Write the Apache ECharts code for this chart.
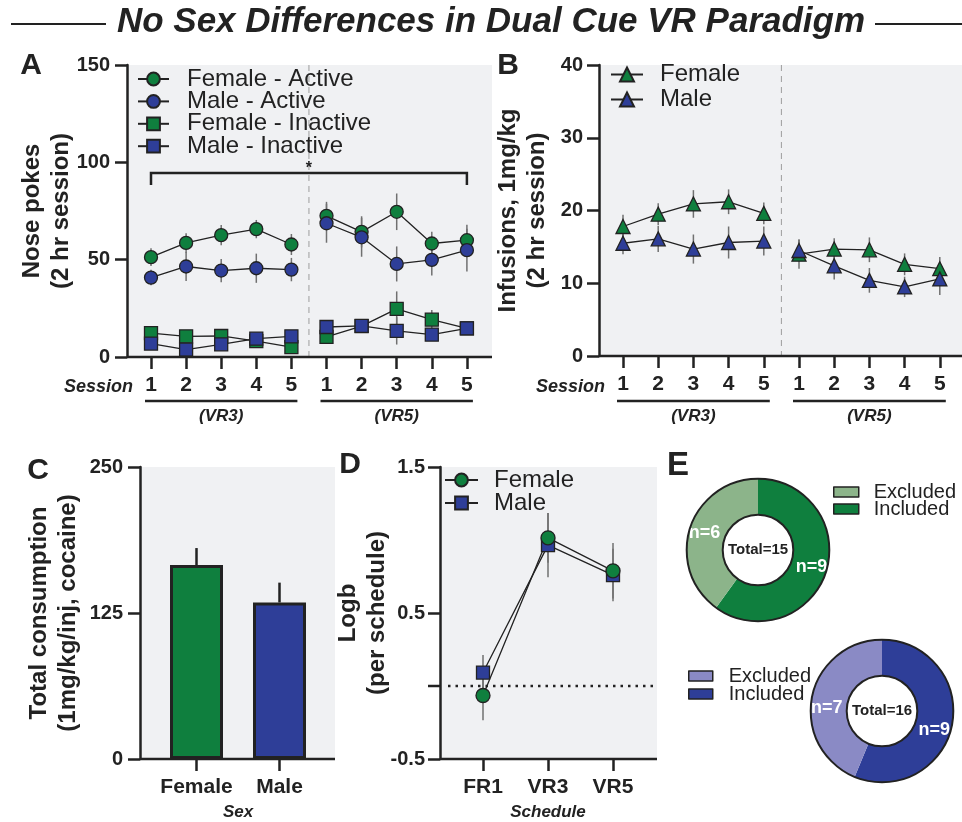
<!DOCTYPE html>
<html>
<head>
<meta charset="utf-8">
<title>No Sex Differences in Dual Cue VR Paradigm</title>
<script src="https://cdn.jsdelivr.net/npm/echarts@6/dist/echarts.min.js"></script>
<style>
    html, body { margin: 0; padding: 0; background: #fff; }
    #chart { width: 962px; height: 822px; }
</style>
</head>
<body>
<div id="chart"></div>
<script>
// ---------- data ----------
const sessionLabels = ['1', '2', '3', '4', '5', '1', '2', '3', '4', '5'];
const phaseLabels = ['(VR3)', '(VR5)'];

// A: nose pokes, mean and SEM per session
const femaleActive = [51.3, 58.6, 62.6, 65.7, 57.8, 72.5, 64.3, 74.6, 58.3, 60.0];
const femaleActiveSem = [4.6, 5.0, 5.2, 4.7, 5.4, 7.2, 8.0, 9.4, 6.0, 8.0];
const maleActive = [40.8, 46.5, 44.4, 45.6, 44.9, 68.7, 61.5, 47.8, 49.9, 54.9];
const maleActiveSem = [4.0, 7.4, 6.0, 7.5, 6.0, 10.0, 10.0, 9.0, 8.0, 11.0];
const femaleInactive = [12.3, 10.6, 10.8, 8.2, 5.1, 10.3, 15.9, 24.7, 19.2, 14.7];
const femaleInactiveSem = [3.0, 2.5, 2.5, 2.0, 2.0, 2.5, 3.0, 9.0, 5.0, 3.0];
const maleInactive = [6.9, 3.8, 6.5, 9.4, 10.6, 15.4, 16.0, 13.4, 11.5, 14.7];
const maleInactiveSem = [2.5, 2.0, 2.0, 2.0, 2.5, 3.0, 3.0, 7.0, 3.0, 3.0];

// B: infusions
const femaleInfusions = [17.8, 19.5, 20.9, 21.2, 19.6, 14.0, 14.7, 14.6, 12.6, 12.0];
const femaleInfusionsSem = [1.6, 1.5, 1.9, 1.7, 1.5, 2.0, 1.5, 1.7, 1.5, 1.6];
const maleInfusions = [15.5, 16.1, 14.7, 15.6, 15.8, 14.5, 12.4, 10.4, 9.5, 10.6];
const maleInfusionsSem = [1.5, 1.8, 2.0, 2.2, 2.0, 1.5, 1.9, 1.7, 1.4, 2.2];

// C: total consumption
const sexLabels = ['Female', 'Male'];
const consumption = [166, 134];
const consumptionSem = [14.6, 17];

// D: Logb per schedule
const scheduleLabels = ['FR1', 'VR3', 'VR5'];
const logbFemale = [-0.065, 1.015, 0.789];
const logbFemaleSem = [0.17, 0.17, 0.19];
const logbMale = [0.092, 0.965, 0.76];
const logbMaleSem = [0.12, 0.22, 0.18];

// E: animals included / excluded
const femaleIncluded = 9;
const femaleExcluded = 6;
const maleIncluded = 9;
const maleExcluded = 7;

// ---------- style ----------
const FONT = '"Liberation Sans", Arial, Helvetica, sans-serif';
const INK = '#222';
const GREEN = '#0f7f3e';
const BLUE = '#2e3e98';
const LIGHT_GREEN = '#8cb48a';
const LIGHT_BLUE = '#8a8ac5';
const PANEL_BG = '#f0f1f3';
const ERR = '#707070';

// shaded plot boxes, px
const boxA = { x: 127, y: 65, w: 365, h: 292 };
const boxB = { x: 599, y: 65, w: 363, h: 291 };
const boxC = { x: 140, y: 467, w: 195, h: 292 };
const boxD = { x: 440, y: 467, w: 217, h: 292 };

// grids (category bands narrower than the shaded box)
const gridA = { left: 133.45, top: 65, width: 351, height: 292 };
const gridB = { left: 605.4, top: 65, width: 352, height: 291 };
const gridC = { left: 155, top: 467, width: 166, height: 292 };
const gridD = { left: 450.5, top: 467, width: 195, height: 292 };

const donutF = { cx: 758, cy: 550 };
const donutM = { cx: 882, cy: 711 };
const donutR = [35.3, 71.3];

const catX = (g, n, i) => g.left + g.width / n * (i + 0.5);

const chart = echarts.init(document.getElementById('chart'));

function yAxisFor(gridIndex, min, max, interval, name, offset, nameGap, margin) {
    return {
        type: 'value', gridIndex, min, max, interval, offset,
        name, nameLocation: 'middle', nameRotate: 90, nameGap, nameMoveOverlap: false,
        nameTextStyle: { fontFamily: FONT, fontWeight: 'bold', fontSize: 24, lineHeight: 29, color: INK },
        axisLine: { show: true, lineStyle: { color: INK, width: 2.5 } },
        axisTick: { show: true, length: 12, lineStyle: { color: INK, width: 2.5 } },
        axisLabel: { fontFamily: FONT, fontWeight: 'bold', fontSize: 20, color: INK, margin },
        splitLine: { show: false }
    };
}

function xAxisFor(gridIndex, data, formatter, name) {
    return {
        type: 'category', gridIndex, data,
        name, nameLocation: 'middle', nameGap: 45,
        nameTextStyle: { fontFamily: FONT, fontWeight: 'bold', fontStyle: 'italic', fontSize: 17, color: INK },
        axisLine: { show: false, onZero: false },
        axisTick: { show: true, alignWithLabel: true, length: 12, lineStyle: { color: INK, width: 2.5 } },
        axisLabel: { interval: 0, formatter, fontFamily: FONT, fontWeight: 'bold', fontSize: 21, color: INK, margin: 18 },
        splitLine: { show: false }
    };
}

// one line series per schedule block, so VR3 and VR5 are not joined
function sessionLines(name, values, symbol, size, color, axis) {
    return [values.slice(0, 5).map((v, i) => [i, v]), values.slice(5).map((v, i) => [i + 5, v])].map(data => ({
        type: 'line', name, xAxisIndex: axis, yAxisIndex: axis, data,
        symbol, symbolSize: size, z: 3,
        lineStyle: { color: INK, width: 1.3 },
        itemStyle: { color, borderColor: INK, borderWidth: 1.3 },
        silent: true
    }));
}

function errorBars(axis, means, sems, color, width, upOnly) {
    return {
        type: 'custom', xAxisIndex: axis, yAxisIndex: axis, z: 2, silent: true,
        data: means.map((m, i) => [i, upOnly ? m : m - sems[i], m + sems[i]]),
        renderItem: (params, api) => {
            const lo = api.coord([api.value(0), api.value(1)]);
            const hi = api.coord([api.value(0), api.value(2)]);
            return {
                type: 'line',
                shape: { x1: lo[0], y1: lo[1], x2: hi[0], y2: hi[1] },
                style: { stroke: color, lineWidth: width }
            };
        }
    };
}

function dividerLine(axis) {
    return {
        type: 'custom', xAxisIndex: axis, yAxisIndex: axis, z: 1, silent: true,
        data: [[0, 0]],
        renderItem: (params, api) => {
            const cs = params.coordSys;
            const xMid = (api.coord([4, 0])[0] + api.coord([5, 0])[0]) / 2;
            return {
                type: 'line',
                shape: { x1: xMid, y1: cs.y, x2: xMid, y2: cs.y + cs.height },
                style: { stroke: '#9d9d9d', lineWidth: 1, lineDash: [6, 5] }
            };
        }
    };
}

function label(text, x, y, size, weight, italic, align) {
    return {
        type: 'text', x, y, z: 10, silent: true,
        style: {
            text, fill: INK, fontFamily: FONT, fontSize: size, fontWeight: weight,
            fontStyle: italic ? 'italic' : 'normal', align: align || 'center', verticalAlign: 'middle'
        }
    };
}

const graphics = [];
[boxA, boxB, boxC, boxD].forEach(b => {
    graphics.push({ type: 'rect', z: -1, silent: true, shape: { x: b.x, y: b.y, width: b.w, height: b.h }, style: { fill: PANEL_BG } });
    graphics.push({ type: 'line', z: 5, silent: true, shape: { x1: b.x, y1: b.y + b.h, x2: b.x + b.w, y2: b.y + b.h }, style: { stroke: INK, lineWidth: 2.5 } });
});

// title with rules either side
graphics.push(
    label('No Sex Differences in Dual Cue VR Paradigm', 491, 22, 35, 'bold', true),
    { type: 'line', silent: true, shape: { x1: 11, y1: 24, x2: 106, y2: 24 }, style: { stroke: INK, lineWidth: 2 } },
    { type: 'line', silent: true, shape: { x1: 875, y1: 24, x2: 962, y2: 24 }, style: { stroke: INK, lineWidth: 2 } }
);

// panel letters
[['A', 31, 66, 30], ['B', 508, 66, 30], ['C', 38, 471, 30], ['D', 350, 465, 30], ['E', 678, 466, 33]].forEach(([t, x, y, s]) => {
    graphics.push(label(t, x, y, s, 'bold', false));
});

// "Session" row labels and schedule underlines for A and B
[[gridA, boxA], [gridB, boxB]].forEach(([g, b]) => {
    graphics.push(label('Session', b.x + 6, 387, 18, 'bold', true, 'right'));
    phaseLabels.forEach((text, p) => {
        const x1 = catX(g, 10, p * 5) - 6;
        const x2 = catX(g, 10, p * 5 + 4) + 6;
        graphics.push({ type: 'line', silent: true, shape: { x1, y1: 401, x2, y2: 401 }, style: { stroke: INK, lineWidth: 2.5 } });
        graphics.push(label(text, (x1 + x2) / 2, 416, 17, 'bold', true));
    });
});

// donut outlines and totals
[[donutF, femaleIncluded + femaleExcluded], [donutM, maleIncluded + maleExcluded]].forEach(([d, total]) => {
    donutR.forEach(r => {
        graphics.push({ type: 'circle', z: 10, silent: true, shape: { cx: d.cx, cy: d.cy, r }, style: { fill: null, stroke: INK, lineWidth: 2 } });
    });
    graphics.push(label('Total=' + total, d.cx, d.cy, 15, 'bold', false));
});

function legendFor(data, left, top, itemWidth, itemHeight, itemGap, fontSize, padLeft, extra) {
    return Object.assign({
        data, orient: 'vertical', left, top, itemWidth, itemHeight, itemGap,
        selectedMode: false, padding: 0,
        formatter: name => name.split('|').pop(),
        textStyle: { fontFamily: FONT, fontSize, color: INK, padding: [0, 0, 0, padLeft] }
    }, extra || {});
}

const pieLabel = { show: true, position: 'inside', formatter: 'n={c}', color: '#fff', fontFamily: FONT, fontWeight: 'bold', fontSize: 18 };

const option = {
    animation: false,
    backgroundColor: '#fff',
    grid: [gridA, gridB, gridC, gridD],
    xAxis: [
        xAxisFor(0, sessionLabels.map((s, i) => (i < 5 ? 'VR3|' : 'VR5|') + s), v => v.split('|').pop()),
        xAxisFor(1, sessionLabels.map((s, i) => (i < 5 ? 'VR3|' : 'VR5|') + s), v => v.split('|').pop()),
        xAxisFor(2, sexLabels, null, 'Sex'),
        xAxisFor(3, scheduleLabels, null, 'Schedule')
    ],
    yAxis: [
        yAxisFor(0, 0, 150, 50, 'Nose pokes\n(2 hr session)', gridA.left - boxA.x, 51, 17),
        yAxisFor(1, 0, 40, 10, 'Infusions, 1mg/kg\n(2 hr session)', gridB.left - boxB.x, 47, 16),
        yAxisFor(2, 0, 250, 125, 'Total consumption\n(1mg/kg/inj, cocaine)', gridC.left - boxC.x, 57, 17),
        yAxisFor(3, -0.5, 1.5, 1, 'Logb\n(per schedule)', gridD.left - boxD.x, 48, 15)
    ],
    legend: [
        legendFor(['Female - Active', 'Male - Active', 'Female - Inactive', 'Male - Inactive'], 137, 67, 31, 16, -1.6, 24, 13),
        legendFor(['B|Female', 'B|Male'], 610, 62.5, 32, 17.5, 1, 24, 12),
        legendFor(['D|Female', 'D|Male'], 444, 468, 33, 16, -1, 24, 11),
        legendFor(['F|Excluded', 'F|Included'], 833, 482, 25, 10, -3, 20, 10, { icon: 'rect', itemStyle: { borderColor: INK, borderWidth: 1.5 } }),
        legendFor(['M|Excluded', 'M|Included'], 688, 666, 24, 10, -2, 20, 11, { icon: 'rect', itemStyle: { borderColor: INK, borderWidth: 1.5 } })
    ],
    graphic: { elements: graphics },
    series: [
        // ---- A ----
        dividerLine(0),
        {
            type: 'custom', xAxisIndex: 0, yAxisIndex: 0, z: 1, silent: true,
            data: [[0, 0]],
            renderItem: (params, api) => {
                const xMid = (api.coord([4, 0])[0] + api.coord([5, 0])[0]) / 2;
                const l = api.coord([0, 94.5]);
                const r = api.coord([9, 94.5]);
                const foot = api.coord([0, 88.3])[1];
                return {
                    type: 'group',
                    children: [
                        { type: 'polyline', shape: { points: [[l[0], foot], l, r, [r[0], foot]] }, style: { stroke: INK, lineWidth: 2.5, fill: null } },
                        { type: 'text', x: xMid, y: l[1] - 4, style: { text: '*', fontFamily: FONT, fontSize: 16, fontWeight: 'bold', fill: INK, align: 'center', verticalAlign: 'middle' } }
                    ]
                };
            }
        },
        errorBars(0, femaleActive, femaleActiveSem, ERR, 1.5),
        errorBars(0, maleActive, maleActiveSem, ERR, 1.5),
        errorBars(0, femaleInactive, femaleInactiveSem, ERR, 1.5),
        errorBars(0, maleInactive, maleInactiveSem, ERR, 1.5),
        ...sessionLines('Female - Active', femaleActive, 'circle', 13, GREEN, 0),
        ...sessionLines('Male - Active', maleActive, 'circle', 13, BLUE, 0),
        ...sessionLines('Female - Inactive', femaleInactive, 'rect', 13, GREEN, 0),
        ...sessionLines('Male - Inactive', maleInactive, 'rect', 13, BLUE, 0),

        // ---- B ----
        dividerLine(1),
        errorBars(1, femaleInfusions, femaleInfusionsSem, ERR, 1.5),
        errorBars(1, maleInfusions, maleInfusionsSem, ERR, 1.5),
        ...sessionLines('B|Female', femaleInfusions, 'triangle', 14, GREEN, 1),
        ...sessionLines('B|Male', maleInfusions, 'triangle', 14, BLUE, 1),

        // ---- C ----
        {
            type: 'bar', xAxisIndex: 2, yAxisIndex: 2, data: consumption, barWidth: 53, silent: true,
            itemStyle: { color: p => [GREEN, BLUE][p.dataIndex], borderColor: INK, borderWidth: 3 }
        },
        errorBars(2, consumption, consumptionSem, INK, 2.5, true),

        // ---- D ----
        {
            type: 'custom', xAxisIndex: 3, yAxisIndex: 3, z: 1, silent: true,
            data: [[0, 0]],
            renderItem: (params, api) => {
                const y0 = api.coord([0, 0])[1];
                return {
                    type: 'group',
                    children: [
                        { type: 'line', shape: { x1: boxD.x + 8, y1: y0, x2: boxD.x + boxD.w, y2: y0 }, style: { stroke: INK, lineWidth: 2.5, lineDash: [2.5, 5] } },
                        { type: 'line', shape: { x1: boxD.x - 12, y1: y0, x2: boxD.x, y2: y0 }, style: { stroke: INK, lineWidth: 2.5 } }
                    ]
                };
            }
        },
        errorBars(3, logbMale, logbMaleSem, ERR, 1.5),
        errorBars(3, logbFemale, logbFemaleSem, ERR, 1.5),
        {
            type: 'line', name: 'D|Male', xAxisIndex: 3, yAxisIndex: 3, data: logbMale, z: 3, silent: true,
            symbol: 'rect', symbolSize: 13,
            lineStyle: { color: INK, width: 1.3 },
            itemStyle: { color: BLUE, borderColor: INK, borderWidth: 1.3 }
        },
        {
            type: 'line', name: 'D|Female', xAxisIndex: 3, yAxisIndex: 3, data: logbFemale, z: 3, silent: true,
            symbol: 'circle', symbolSize: 14,
            lineStyle: { color: INK, width: 1.3 },
            itemStyle: { color: GREEN, borderColor: INK, borderWidth: 1.3 }
        },

        // ---- E ----
        {
            type: 'pie', center: [donutF.cx, donutF.cy], radius: donutR, startAngle: 90, clockwise: true,
            silent: true, avoidLabelOverlap: false, label: pieLabel, labelLine: { show: false },
            data: [
                { name: 'F|Included', value: femaleIncluded, itemStyle: { color: GREEN } },
                { name: 'F|Excluded', value: femaleExcluded, itemStyle: { color: LIGHT_GREEN } }
            ]
        },
        {
            type: 'pie', center: [donutM.cx, donutM.cy], radius: donutR, startAngle: 90, clockwise: true,
            silent: true, avoidLabelOverlap: false, label: pieLabel, labelLine: { show: false },
            data: [
                { name: 'M|Included', value: maleIncluded, itemStyle: { color: BLUE }, label: { offset: [-3, 8] } },
                { name: 'M|Excluded', value: maleExcluded, itemStyle: { color: LIGHT_BLUE }, label: { offset: [0, 8] } }
            ]
        }
    ]
};

chart.setOption(option);
window.addEventListener('resize', () => chart.resize());
</script>
</body>
</html>
